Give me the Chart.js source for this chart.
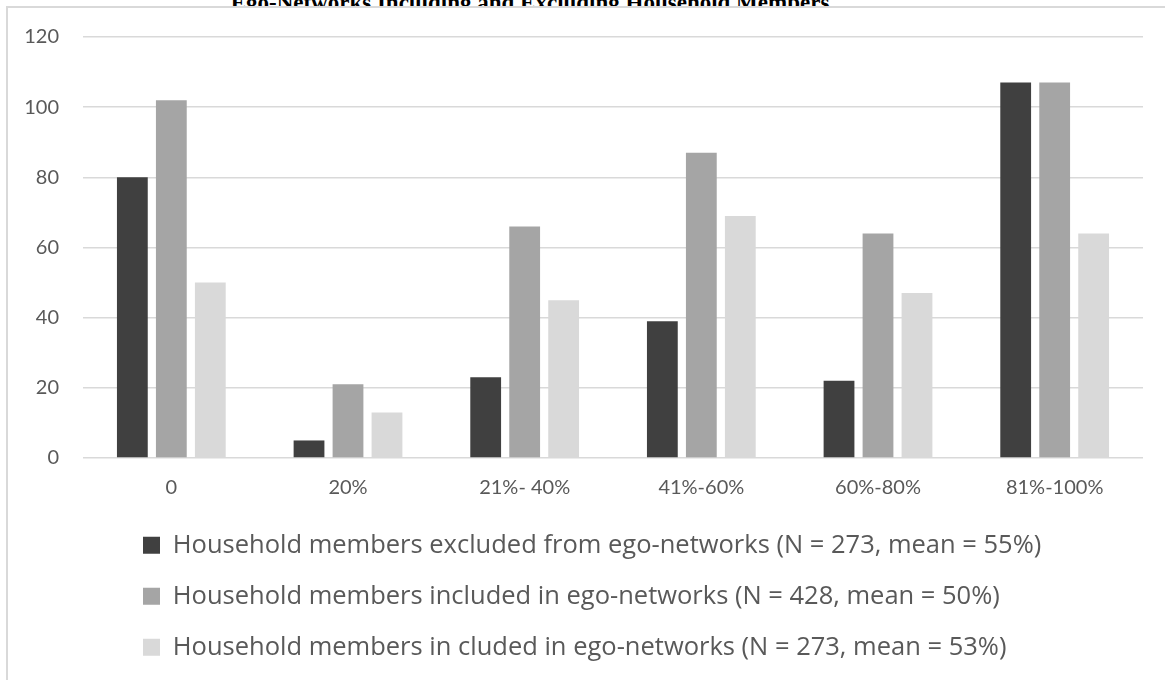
<!DOCTYPE html>
<html>
<head>
<meta charset="utf-8">
<script src="https://cdn.jsdelivr.net/npm/chart.js@4"></script>
<style>
    html, body { margin: 0; padding: 0; background: #fff; overflow: hidden; }
    #title {
        position: absolute; left: 0; top: -9px; width: 1060px;
        text-align: center; font: bold 23px/23px "Liberation Serif", "Times New Roman", serif; color: #000;
    }
    #frame {
        position: absolute; left: 6px; top: 6px; width: 1200px; height: 720px;
        border: 2px solid #d9d9d9; background: #fff;
    }
    #chart { position: absolute; left: 0; top: 0; }
</style>
</head>
<body>
<div id="title">Ego-Networks Including and Excluding Household Members</div>
<div id="frame"><canvas id="chart" width="1157" height="672"></canvas></div>
<script>
const categories = ["0", "20%", "21%- 40%", "41%-60%", "60%-80%", "81%-100%"];
const seriesNames = [
    "Household members excluded from ego-networks (N = 273, mean = 55%)",
    "Household members included in ego-networks (N = 428, mean = 50%)",
    "Household members in cluded in ego-networks (N = 273, mean = 53%)"
];
const excluded = [80, 5, 23, 39, 22, 107];
const included = [102, 21, 66, 87, 64, 107];
const inCluded = [50, 13, 45, 69, 47, 64];
const yTicks = { min: 0, max: 120, step: 20 };

const colors = ["#404040", "#a5a5a5", "#d9d9d9"];
const textColor = "#595959";
const gridColor = "#d9d9d9";

// shift the legend rows so they start under the plot, left aligned
const legendShift = {
    id: "legendShift",
    afterLayout(chart) {
        const pad = chart.options.plugins.legend.labels.padding;
        chart.legend.left = 135 - pad;
    }
};

new Chart(document.getElementById("chart"), {
    type: "bar",
    data: {
        labels: categories,
        datasets: [excluded, included, inCluded].map((values, i) => ({
            label: seriesNames[i],
            data: values,
            backgroundColor: colors[i],
            categoryPercentage: 0.662,
            barPercentage: 0.79
        }))
    },
    options: {
        responsive: false,
        animation: false,
        layout: { padding: { left: 0, right: 22, top: 29, bottom: 10 } },
        scales: {
            x: {
                border: { display: false },
                grid: { display: false, drawTicks: false },
                ticks: { color: textColor, font: { family: "Lato", size: 20 }, padding: 18 },
                afterFit(scale) { scale.height = 49; }
            },
            y: {
                min: yTicks.min,
                max: yTicks.max,
                border: { display: false },
                grid: { color: gridColor, lineWidth: 1.5, drawTicks: false },
                ticks: { stepSize: yTicks.step, color: textColor, font: { family: "Lato", size: 20 }, padding: 24 },
                afterFit(scale) {
                    scale.width = 75;
                    scale.paddingTop = 0;
                }
            }
        },
        plugins: {
            title: { display: false },
            tooltip: { enabled: false },
            legend: {
                position: "bottom",
                align: "start",
                labels: {
                    color: textColor,
                    font: { family: "Open Sans", size: 25.5 },
                    boxWidth: 17,
                    boxHeight: 17,
                    padding: 25.5
                }
            }
        }
    },
    plugins: [legendShift]
});
</script>
</body>
</html>
